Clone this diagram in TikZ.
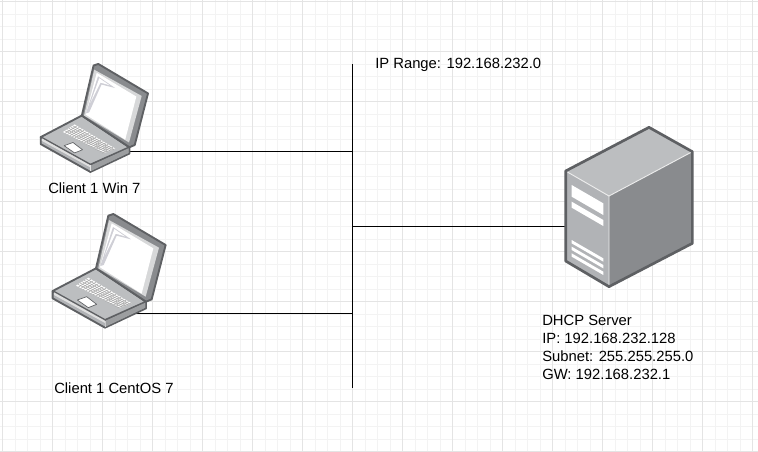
\documentclass[tikz,border=0pt]{standalone}
\usepackage{fontspec}
\setmainfont{Liberation Sans}
\definecolor{edgeg}{HTML}{5E6063}
\definecolor{topg}{HTML}{BCBEC0}
\definecolor{frontg}{HTML}{B1B3B6}
\definecolor{sideg}{HTML}{898B8E}
\definecolor{gridmaj}{HTML}{E4E4E4}
\definecolor{gridmin}{HTML}{F3F3F3}
\tikzset{
  px/.style={x=0.75pt,y=-0.75pt},
  label/.style={font=\fontsize{11.1pt}{13.4pt}\selectfont,anchor=base west,align=left,inner sep=0pt,text=black},
  wire/.style={draw=black,line width=0.95pt},
  anchorbox/.style={inner sep=0pt,minimum size=0pt},
  laptop/.pic={
    \begin{scope}[x=0.25pt,y=-0.25pt,line join=round]
    % base
    \fill[draw=edgeg,line width=1.4pt,fill=frontg] (23,258)--(23,280)--(180,368)--(303,310)--(303,290)--(180,345)--cycle;
    \fill[draw=edgeg,line width=1.4pt,fill=topg] (23,258)--(153,190)--(303,290)--(180,345)--cycle;
    \fill[white!75!gray] (27,262)--(180,347)--(180,354)--(27,270)--cycle;
    \draw[white!80!gray,line width=0.5pt] (180,347)--(180,366);
    \fill[frontg!88!black] (182,347)--(301,293)--(301,308)--(182,365)--cycle;
    % lid
    \fill[draw=edgeg,line width=1.4pt,fill=sideg] (153,190)--(190,32)--(205,27)--(362,120)--(358,135)--(320,283)--(303,290)--cycle;
    \fill[topg!60] (160,190)--(192,45)--(342,128)--(302,275)--cycle;
    \fill[white] (200,55)--(325,130)--(290,266)--(165,187)--cycle;
    \fill[blue!8!gray!35!white] (204,66)--(166,183)--(176,180)--(215,92)--(258,103)--cycle;
    \fill[white] (208,72)--(240,94)--(212,86)--(180,150)--cycle;
    % keyboard
    \fill[white] (93,242)--(130,218)--(260,295)--(225,308)--cycle;
    \foreach \i in {1,...,5}{
      \draw[gray!70,line width=0.4pt] ({93+\i*6.2},{242-\i*4})--({225+\i*5.8},{308-\i*2.2});
    }
    \foreach \i in {1,...,17}{
      \draw[gray!70,line width=0.4pt] ({93+\i*7.3},{242+\i*3.9})--({130+\i*7.6},{218+\i*4.5});
    }
    % trackpad
    \fill[draw=edgeg,line width=0.5pt,fill=white] (97,285)--(125,275)--(155,298)--(130,308)--cycle;
    \end{scope}
  }
}
\begin{document}
\begin{tikzpicture}[px]
\useasboundingbox (0,0) rectangle (758,451);
\fill[white] (0,0) rectangle (758,451);
\foreach \k in {0,...,60}{
  \draw[gridmin,line width=0.75pt] ({2.5+12.5*\k},0)--({2.5+12.5*\k},451);
}
\foreach \k in {0,...,36}{
  \draw[gridmin,line width=0.75pt] (0,{1.5+12.5*\k})--(758,{1.5+12.5*\k});
}
\foreach \k in {0,...,15}{
  \draw[gridmaj,line width=0.75pt] ({2.5+50*\k},0)--({2.5+50*\k},451);
}
\foreach \k in {0,...,9}{
  \draw[gridmaj,line width=0.75pt] (0,{1.5+50*\k})--(758,{1.5+50*\k});
}
% connection points
\node[anchorbox] (lap1) at (124,151.5) {};
\node[anchorbox] (lap2) at (127,313.5) {};
\node[anchorbox] (srv) at (566,226.5) {};
\coordinate (busT) at (352.5,64);
\coordinate (busB) at (352.5,388);
\coordinate (j1) at (352.5,151.5);
\coordinate (j2) at (352.5,313.5);
\coordinate (j3) at (352.5,226.5);
\draw[wire] (busT)--(busB);
\draw[wire] (lap1)--(j1);
\draw[wire] (lap2)--(j2);
\draw[wire] (srv)--(j3);
% laptops
\pic[scale=0.95] at (33.4,55.4) {laptop};
\pic at (45,205) {laptop};
% server
\begin{scope}[shift={(550,115)},x=0.25pt,y=-0.25pt,line join=round]
  \fill[topg] (47,168)--(297,37)--(427,110)--(177,243)--cycle;
  \fill[sideg] (177,243)--(427,110)--(427,385)--(177,515)--cycle;
  \fill[frontg] (47,168)--(177,243)--(177,515)--(47,438)--cycle;
  \draw[white!85!gray,line width=0.7pt] (47,168)--(177,243)--(427,110) (177,243)--(177,515);
  \fill[white] (65,210)--(160,265)--(160,300)--(65,245)--cycle;
  \fill[white] (65,260)--(160,315)--(160,333)--(65,278)--cycle;
  \fill[white] (65,375)--(160,430)--(160,440)--(65,385)--cycle;
  \fill[white] (65,395)--(160,450)--(160,460)--(65,405)--cycle;
  \fill[white] (65,415)--(160,470)--(160,480)--(65,425)--cycle;
  \draw[edgeg,line width=2pt] (47,168)--(297,37)--(427,110)--(427,385)--(177,515)--(47,438)--cycle;
\end{scope}
% labels
\node[label] (t1) at (375,68) {IP Range: 192.168.232.0};
\node[label] (t2) at (48,193) {Client 1 Win 7};
\node[label] (t3) at (54,393) {Client 1 CentOS 7};
\node[label] (t4a) at (542,325) {DHCP Server};
\node[label] (t4b) at (542,343) {IP: 192.168.232.128};
\node[label] (t4c) at (542,361) {Subnet: 255.255.255.0};
\node[label] (t4d) at (542,379) {GW: 192.168.232.1};
\end{tikzpicture}
\end{document}
